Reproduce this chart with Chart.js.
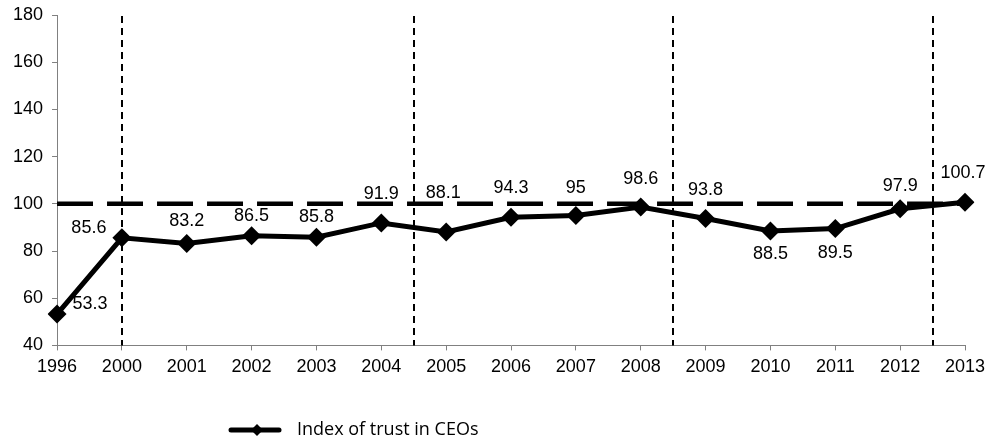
<!DOCTYPE html>
<html>
<head>
<meta charset="utf-8">
<script src="https://cdn.jsdelivr.net/npm/chart.js@4"></script>
<style>
  html, body { margin: 0; padding: 0; background: #fff; }
  #wrap { width: 986px; height: 444px; position: relative; }
</style>
</head>
<body>
<div id="wrap"><canvas id="c" width="986" height="444"></canvas></div>
<script>
const years = ['1996','2000','2001','2002','2003','2004','2005','2006','2007','2008','2009','2010','2011','2012','2013'];
const trustIndex = [53.3, 85.6, 83.2, 86.5, 85.8, 91.9, 88.1, 94.3, 95, 98.6, 93.8, 88.5, 89.5, 97.9, 100.7];
const baselineValue = 100;
const baseline = years.map(() => baselineValue);
const dividerPositions = [1, 5.5, 9.5, 13.5];
const seriesName = 'Index of trust in CEOs';
const yTicks = [40, 60, 80, 100, 120, 140, 160, 180];

// label offsets (style) relative to each point
const labelOffsets = [
  [33, -10], [-33, -10], [0, -22], [0, -19.5], [0, -20.5], [0, -29], [-3, -38.5],
  [0, -29], [0, -28], [0, -28], [0, -28.5], [0, 23], [0, 24], [0, -22.5], [-2, -29.5]
];

const FONT = '"Liberation Sans", Arial, sans-serif';

const overlayPlugin = {
  id: 'overlay',
  afterDatasetsDraw(chart) {
    const ctx = chart.ctx;
    const xs = chart.scales.x;
    const area = chart.chartArea;
    ctx.save();
    ctx.strokeStyle = '#000';
    ctx.lineWidth = 2;
    ctx.setLineDash([7, 5]);
    dividerPositions.forEach(p => {
      const x = Math.round(xs.getPixelForValue(p));
      ctx.beginPath();
      ctx.moveTo(x, area.top + 1);
      ctx.lineTo(x, area.bottom);
      ctx.stroke();
    });
    ctx.setLineDash([]);
    ctx.fillStyle = '#000';
    ctx.font = '18px ' + FONT;
    ctx.textAlign = 'center';
    ctx.textBaseline = 'middle';
    const meta = chart.getDatasetMeta(1);
    meta.data.forEach((pt, i) => {
      const o = labelOffsets[i];
      ctx.fillText(String(trustIndex[i]), pt.x + o[0], pt.y + o[1]);
    });
    ctx.restore();
  },
  afterDraw(chart) {
    const ctx = chart.ctx;
    ctx.save();
    const ly = 430;
    ctx.strokeStyle = '#000';
    ctx.lineWidth = 5;
    ctx.lineCap = 'round';
    ctx.beginPath();
    ctx.moveTo(231, ly);
    ctx.lineTo(279, ly);
    ctx.stroke();
    ctx.fillStyle = '#000';
    ctx.beginPath();
    ctx.moveTo(257, ly - 6);
    ctx.lineTo(263, ly);
    ctx.lineTo(257, ly + 6);
    ctx.lineTo(251, ly);
    ctx.closePath();
    ctx.fill();
    ctx.font = '18px "Open Sans", "DejaVu Sans", sans-serif';
    ctx.textAlign = 'left';
    ctx.textBaseline = 'middle';
    ctx.fillText(seriesName, 297, ly);
    ctx.restore();
  }
};

new Chart(document.getElementById('c'), {
  type: 'line',
  data: {
    labels: years,
    datasets: [
      {
        label: 'baseline',
        data: baseline,
        borderColor: '#000',
        borderWidth: 4.5,
        borderDash: [36, 14],
        pointRadius: 0,
        fill: false
      },
      {
        label: seriesName,
        data: trustIndex,
        borderColor: '#000',
        backgroundColor: '#000',
        borderWidth: 5,
        pointStyle: 'rectRot',
        pointRadius: 9.5,
        pointBorderWidth: 0,
        pointBackgroundColor: '#000',
        tension: 0,
        fill: false
      }
    ]
  },
  options: {
    responsive: false,
    animation: false,
    devicePixelRatio: 1,
    layout: { padding: { left: 4, right: 21, top: 15, bottom: 60 } },
    plugins: {
      legend: { display: false },
      tooltip: { enabled: false }
    },
    scales: {
      x: {
        type: 'category',
        offset: false,
        afterFit(scale) { scale.paddingLeft = 0; scale.paddingRight = 0; },
        grid: { display: true, drawOnChartArea: false, drawTicks: true, tickLength: 5, color: '#808080', lineWidth: 1 },
        border: { display: true, color: '#808080', width: 1 },
        ticks: {
          color: '#000',
          font: { size: 18, family: FONT },
          maxRotation: 0, autoSkip: false, padding: 6
        }
      },
      y: {
        min: 40, max: 180,
        afterBuildTicks(scale) { scale.ticks = yTicks.map(v => ({ value: v })); },
        afterFit(scale) { scale.paddingTop = 0; scale.paddingBottom = 0; },
        grid: { display: true, drawOnChartArea: false, drawTicks: true, tickLength: 5, color: '#808080', lineWidth: 1 },
        border: { display: true, color: '#808080', width: 1 },
        ticks: {
          color: '#000',
          font: { size: 18, family: FONT },
          padding: 9
        }
      }
    }
  },
  plugins: [overlayPlugin]
});
</script>
</body>
</html>
